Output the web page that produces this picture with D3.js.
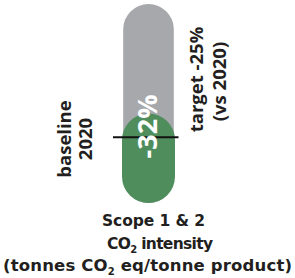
<!DOCTYPE html>
<html>
<head>
<meta charset="utf-8">
<script src="https://cdn.jsdelivr.net/npm/d3@7"></script>
<style>
  html, body { margin: 0; padding: 0; background: #ffffff; }
  svg { display: block; }
  text { font-family: "Open Sans", "DejaVu Sans", sans-serif; font-weight: 700; }
  text.title { font-family: "DejaVu Sans", sans-serif; }
</style>
</head>
<body>
<svg id="chart" width="295" height="278"></svg>
<script>
// ---- data ----
const categories = ["Scope 1 & 2"];
const baselineValues = [100];   // grey pill (2020 baseline)
const currentValues = [45];     // green pill (current)
const markerValues = [33];      // black marker line
const changeLabels = ["-32%"];
const baselineLabel = ["baseline", "2020"];
const targetLabel = ["target -25%", "(vs 2020)"];
const titleLines = ["Scope 1 & 2", ["CO", "2", " intensity"], ["(tonnes CO", "2", " eq/tonne product)"]];

// ---- layout ----
const W = 295, H = 278;
const svg = d3.select("#chart");

const x = d3.scaleBand().domain(categories).range([122, 175]).padding(0);
const y = d3.scaleLinear().domain([0, 100]).range([203, 4]);

const grey = "#a7a8ac", green = "#4f8e5c", ink = "#231f20";

const g = svg.append("g");

// grey pill
g.selectAll("rect.base").data(categories).join("rect")
  .attr("class", "base")
  .attr("x", d => x(d) + 1.2)
  .attr("width", x.bandwidth() - 2.4)
  .attr("y", (d, i) => y(baselineValues[i]))
  .attr("height", (d, i) => y(0) - y(baselineValues[i]))
  .attr("rx", (x.bandwidth() - 2.4) / 2)
  .attr("fill", grey);

// green pill
g.selectAll("rect.cur").data(categories).join("rect")
  .attr("class", "cur")
  .attr("x", d => x(d))
  .attr("width", x.bandwidth())
  .attr("y", (d, i) => y(currentValues[i]))
  .attr("height", (d, i) => y(0) - y(currentValues[i]))
  .attr("rx", x.bandwidth() / 2)
  .attr("fill", green);

// marker line
g.selectAll("line.mark").data(categories).join("line")
  .attr("class", "mark")
  .attr("x1", d => x(d) - 9)
  .attr("x2", d => x(d) + x.bandwidth() + 3.5)
  .attr("y1", (d, i) => y(markerValues[i]))
  .attr("y2", (d, i) => y(markerValues[i]))
  .attr("stroke", "#111")
  .attr("stroke-width", 2);

// change label (white, rotated)
g.selectAll("text.chg").data(categories).join("text")
  .attr("class", "chg")
  .attr("transform", d => `translate(${x(d) + x.bandwidth() / 2 + 8.5},126.5) rotate(-90)`)
  .attr("text-anchor", "middle")
  .attr("font-size", 27)
  .attr("fill", "#ffffff")
  .text((d, i) => changeLabels[i]);

// baseline label
const bx = [71, 92];
baselineLabel.forEach((t, i) => {
  svg.append("text")
    .attr("transform", `translate(${bx[i]},139) rotate(-90)`)
    .attr("text-anchor", "middle")
    .attr("font-size", 18.5)
    .attr("fill", ink)
    .text(t);
});

// target label
const tx = [203, 226], ty = [79.5, 81.5];
targetLabel.forEach((t, i) => {
  svg.append("text")
    .attr("transform", `translate(${tx[i]},${ty[i]}) rotate(-90)`)
    .attr("text-anchor", "middle")
    .attr("font-size", 18.5)
    .attr("fill", ink)
    .text(t);
});

// title lines
const titleY = [225.5, 248.5, 270.5];
const titleL = [102, 107, 3], titleW = [103, 106, 289], titleFs = [15.5, 15.5, 16.5];
titleLines.forEach((line, i) => {
  const t = svg.append("text")
    .attr("class", "title")
    .attr("x", titleL[i]).attr("y", titleY[i])
    .attr("text-anchor", "start")
    .attr("font-size", titleFs[i])
    .attr("textLength", titleW[i])
    .attr("lengthAdjust", "spacing")
    .attr("fill", ink);
  if (typeof line === "string") {
    t.text(line);
  } else {
    t.append("tspan").text(line[0]);
    t.append("tspan").attr("font-size", 10).attr("dy", 4).text(line[1]);
    t.append("tspan").attr("dy", -4).text(line[2]);
  }
});
</script>
</body>
</html>
